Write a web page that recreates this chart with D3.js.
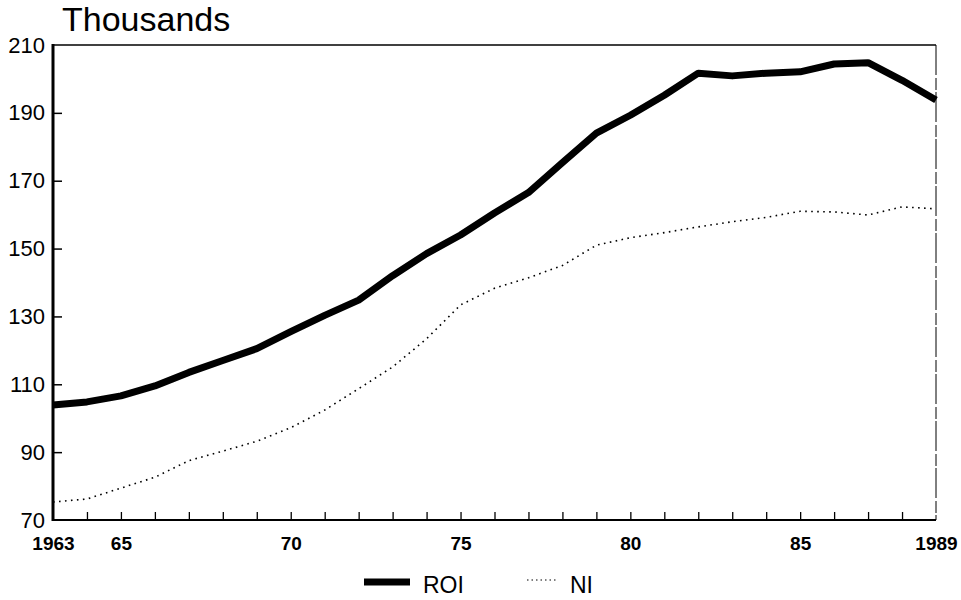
<!DOCTYPE html>
<html>
<head>
<meta charset="utf-8">
<script src="https://cdn.jsdelivr.net/npm/d3@7"></script>
<style>
  body { margin: 0; background: #fff; }
  svg { display: block; font-family: "Liberation Sans", Arial, sans-serif; }
</style>
</head>
<body>
<script>
// DATI
//
var years = [1963, 1964, 1965, 1966, 1967, 1968, 1969, 1970, 1971, 1972, 1973, 1974, 1975,
             1976, 1977, 1978, 1979, 1980, 1981, 1982, 1983, 1984, 1985, 1986, 1987, 1988, 1989];

var roiValues = [103.9, 104.8, 106.6, 109.5, 113.5, 117.0, 120.5, 125.5, 130.3, 134.8, 142.0, 148.5, 154.0,
                 160.5, 166.5, 175.3, 184.0, 189.3, 195.2, 201.7, 200.9, 201.7, 202.1, 204.4, 204.8, 199.6, 193.8];

var niValues = [75.3, 76.2, 79.4, 82.6, 87.5, 90.3, 93.2, 97.2, 102.4, 108.7, 115.1, 123.4, 133.4,
                138.3, 141.4, 145.0, 151.0, 153.2, 154.7, 156.4, 157.9, 159.2, 161.0, 160.8, 159.9, 162.3, 161.7];

var yTicks = [70, 90, 110, 130, 150, 170, 190, 210];
var xLabels = { 1963: "1963", 1965: "65", 1970: "70", 1975: "75", 1980: "80", 1985: "85", 1989: "1989" };

var seriesNames = ["ROI", "NI"];

// DOM
//
var width = 961;
var height = 600;

var plotLeft = 53, plotRight = 936, plotTop = 45, plotBottom = 520;

var svg = d3.select("body").append("svg")
  .attr("width", width)
  .attr("height", height);

var x = d3.scaleLinear().domain([1963, 1989]).range([plotLeft, plotRight]);
var y = d3.scaleLinear().domain([70, 210]).range([plotBottom, plotTop]);

// TITOLO
svg.append("text")
  .attr("x", 62)
  .attr("y", 31)
  .attr("font-size", 34)
  .text("Thousands");

// ASSE Y
var yAxis = svg.append("g")
  .attr("transform", "translate(" + plotLeft + ",0)")
  .call(d3.axisLeft(y).tickValues(yTicks).tickSizeInner(-9).tickSizeOuter(0).tickPadding(8));
yAxis.select(".domain").remove();
yAxis.selectAll(".tick line")
  .attr("stroke-width", 1.5)
  .filter(function(d) { return d == 70 || d == 210; }).remove();
yAxis.selectAll(".tick text")
  .attr("font-size", 22)
  .attr("font-family", "Liberation Sans, Arial, sans-serif")
  .attr("fill", "#000");

// ASSE X
var xAxis = svg.append("g")
  .attr("transform", "translate(0," + plotBottom + ")")
  .call(d3.axisBottom(x).tickValues(years).tickSizeInner(-8).tickSizeOuter(0).tickPadding(17)
    .tickFormat(function(d) { return xLabels[d] || ""; }));
xAxis.select(".domain").remove();
xAxis.selectAll(".tick line")
  .attr("stroke-width", 1.3)
  .filter(function(d) { return d == 1963 || d == 1989; }).remove();
xAxis.selectAll(".tick text")
  .attr("font-size", 19)
  .attr("font-weight", "bold")
  .attr("font-family", "Liberation Sans, Arial, sans-serif")
  .attr("fill", "#000");

// CORNICE
svg.append("line").attr("x1", plotLeft).attr("x2", plotRight).attr("y1", plotTop).attr("y2", plotTop)
  .attr("stroke", "#000").attr("stroke-width", 1.6);
svg.append("line").attr("x1", plotLeft).attr("x2", plotRight).attr("y1", plotBottom).attr("y2", plotBottom)
  .attr("stroke", "#000").attr("stroke-width", 2);
svg.append("line").attr("x1", plotLeft).attr("x2", plotLeft).attr("y1", plotTop - 1).attr("y2", plotBottom + 1)
  .attr("stroke", "#000").attr("stroke-width", 3);
svg.append("line").attr("x1", plotRight).attr("x2", plotRight).attr("y1", plotTop).attr("y2", plotBottom)
  .attr("stroke", "#000").attr("stroke-width", 1).attr("stroke-dasharray", "30,3,12,2");

// LINEE
var line = d3.line()
  .x(function(d) { return x(d.year); })
  .y(function(d) { return y(d.value); });

var roiData = years.map(function(yr, i) { return { year: yr, value: roiValues[i] }; });
var niData = years.map(function(yr, i) { return { year: yr, value: niValues[i] }; });

svg.append("path")
  .datum(niData)
  .attr("d", line)
  .attr("fill", "none")
  .attr("stroke", "#000")
  .attr("stroke-width", 1.6)
  .attr("stroke-dasharray", "1.6,4.4");

svg.append("path")
  .datum(roiData)
  .attr("d", line)
  .attr("fill", "none")
  .attr("stroke", "#000")
  .attr("stroke-width", 7)
  .attr("stroke-linejoin", "round");

// LEGENDA
var legend = svg.append("g");
legend.append("line")
  .attr("x1", 364).attr("x2", 410).attr("y1", 582).attr("y2", 582)
  .attr("stroke", "#000").attr("stroke-width", 7);
legend.append("text")
  .attr("x", 423).attr("y", 593)
  .attr("font-size", 23)
  .text(seriesNames[0]);
legend.append("line")
  .attr("x1", 527).attr("x2", 557).attr("y1", 580).attr("y2", 580)
  .attr("stroke", "#000").attr("stroke-width", 1.2).attr("stroke-dasharray", "1.5,3");
legend.append("text")
  .attr("x", 570).attr("y", 593)
  .attr("font-size", 23)
  .text(seriesNames[1]);
</script>
</body>
</html>
